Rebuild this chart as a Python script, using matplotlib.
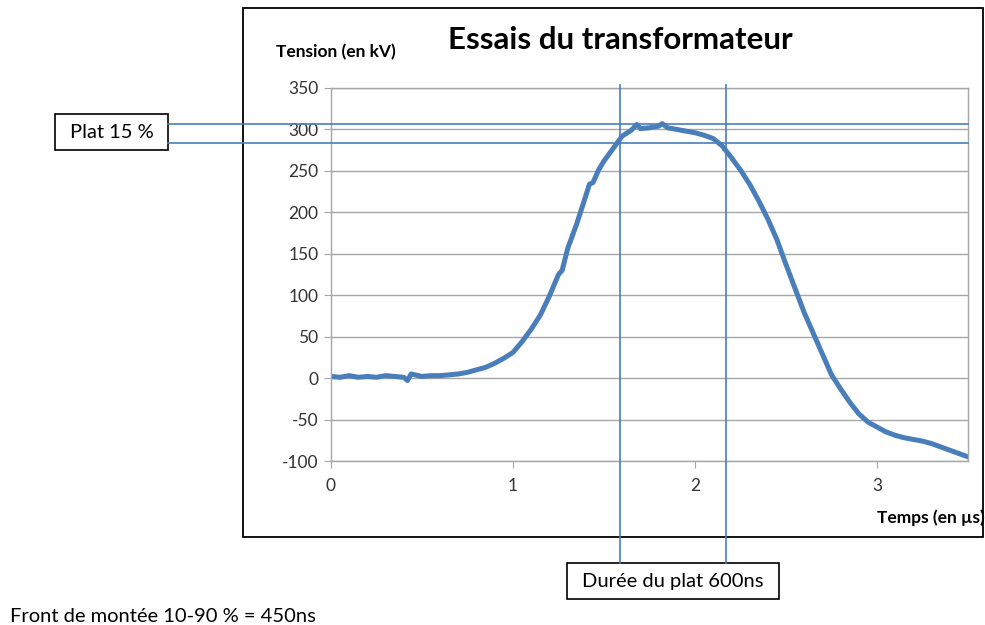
import matplotlib
matplotlib.use("Agg")
import matplotlib.pyplot as plt
from matplotlib.lines import Line2D
from matplotlib.patches import Rectangle
from matplotlib.transforms import blended_transform_factory

plt.rcParams['font.family'] = ['Lato', 'DejaVu Sans']
plt.rcParams['axes.unicode_minus'] = False

# Relevé de l'impulsion (temps en µs, tension en kV)
temps_us = [0.00, 0.05, 0.10, 0.15, 0.20, 0.25, 0.30, 0.35, 0.40, 0.42,
            0.44, 0.50, 0.55, 0.60, 0.65, 0.70, 0.75, 0.80, 0.85, 0.90,
            0.95, 1.00, 1.05, 1.10, 1.15, 1.20, 1.25, 1.27, 1.30, 1.35,
            1.40, 1.42, 1.44, 1.47, 1.50, 1.55, 1.60, 1.65, 1.68, 1.70,
            1.75, 1.80, 1.82, 1.85, 1.90, 1.95, 2.00, 2.05, 2.10, 2.15,
            2.20, 2.25, 2.30, 2.35, 2.40, 2.45, 2.50, 2.55, 2.60, 2.65,
            2.70, 2.75, 2.80, 2.85, 2.90, 2.95, 3.00, 3.05, 3.10, 3.15,
            3.20, 3.25, 3.30, 3.35, 3.40, 3.45, 3.50]
tension_kv = [2, 1, 3, 1, 2, 1, 3, 2, 1, -3,
              5, 2, 3, 3, 4, 5, 7, 10, 13, 18,
              24, 31, 44, 59, 76, 99, 125, 130, 156, 186,
              220, 234, 236, 251, 262, 277, 292, 299, 306, 301,
              302, 304, 307, 302, 300, 298, 296, 293, 289, 280,
              266, 251, 234, 214, 192, 167, 137, 108, 79, 54,
              29, 4, -13, -29, -43, -53, -59, -65, -69, -72,
              -74, -76, -79, -83, -87, -91, -95]

# Repères du plat
plat_haut = 307
plat_bas = 284
plat_debut = 1.59
plat_fin = 2.17

x_ticks = [0, 1, 2, 3]
y_ticks = [-100, -50, 0, 50, 100, 150, 200, 250, 300, 350]

BLEU = "#4a7ebb"
GRIS = "#a6a6a6"
W, H = 985, 625


def fx(px):
    return px / W


def fy(py):
    return 1 - py / H


fig = plt.figure(figsize=(9.85, 6.25), dpi=100)

# cadre du graphique
fig.add_artist(Rectangle((fx(243), fy(537)), fx(983) - fx(243), fy(8) - fy(537),
                         transform=fig.transFigure, fill=False,
                         edgecolor="black", lw=1.3))

ax = fig.add_axes([fx(331), fy(461), fx(968) - fx(331), fy(88) - fy(461)])
ax.set_facecolor("none")
ax.plot(temps_us, tension_kv, color=BLEU, lw=3.6, solid_joinstyle="round")
ax.set_xlim(0, 3.5)
ax.set_ylim(-100, 350)
ax.set_xticks(x_ticks)
ax.set_yticks(y_ticks)
ax.grid(axis="y", color=GRIS, lw=1)
ax.set_axisbelow(True)
for side in ax.spines.values():
    side.set_color(GRIS)
    side.set_linewidth(1)
ax.tick_params(color=GRIS, length=5, labelsize=12.5, labelcolor="#333333")
ax.tick_params(axis="x", pad=7)
ax.tick_params(axis="y", pad=4)

fig.text(fx(620), fy(40), "Essais du transformateur", fontsize=22.5,
         fontweight="bold", ha="center", va="center")
fig.text(fx(336), fy(52), "Tension (en kV)", fontsize=12.5,
         fontweight="bold", ha="center", va="center")
fig.text(fx(985), fy(518), "Temps (en µs)", fontsize=12.5,
         fontweight="bold", ha="right", va="center")

# lignes du plat (horizontales) et de sa durée (verticales)
tr_h = blended_transform_factory(fig.transFigure, ax.transData)
for niveau in (plat_haut, plat_bas):
    fig.add_artist(Line2D([fx(168), fx(968)], [niveau, niveau],
                          transform=tr_h, color=BLEU, lw=1.2))
tr_v = blended_transform_factory(ax.transData, fig.transFigure)
for t in (plat_debut, plat_fin):
    fig.add_artist(Line2D([t, t], [fy(85), fy(563)],
                          transform=tr_v, color=BLEU, lw=1.2))

# étiquettes encadrées
for (x0, y0, x1, y1, txt) in [(55, 114, 168, 150, "Plat 15 %"),
                              (567, 563, 779, 599, "Durée du plat 600ns")]:
    fig.add_artist(Rectangle((fx(x0), fy(y1)), fx(x1) - fx(x0), fy(y0) - fy(y1),
                             transform=fig.transFigure, facecolor="white",
                             edgecolor="black", lw=1.2))
    fig.text(fx((x0 + x1) / 2), fy((y0 + y1) / 2), txt, fontsize=14.5,
             ha="center", va="center")

fig.text(fx(10), fy(617), "Front de montée 10-90 % = 450ns", fontsize=14.5,
         ha="left", va="center")

fig.savefig("out.png", dpi=100)
